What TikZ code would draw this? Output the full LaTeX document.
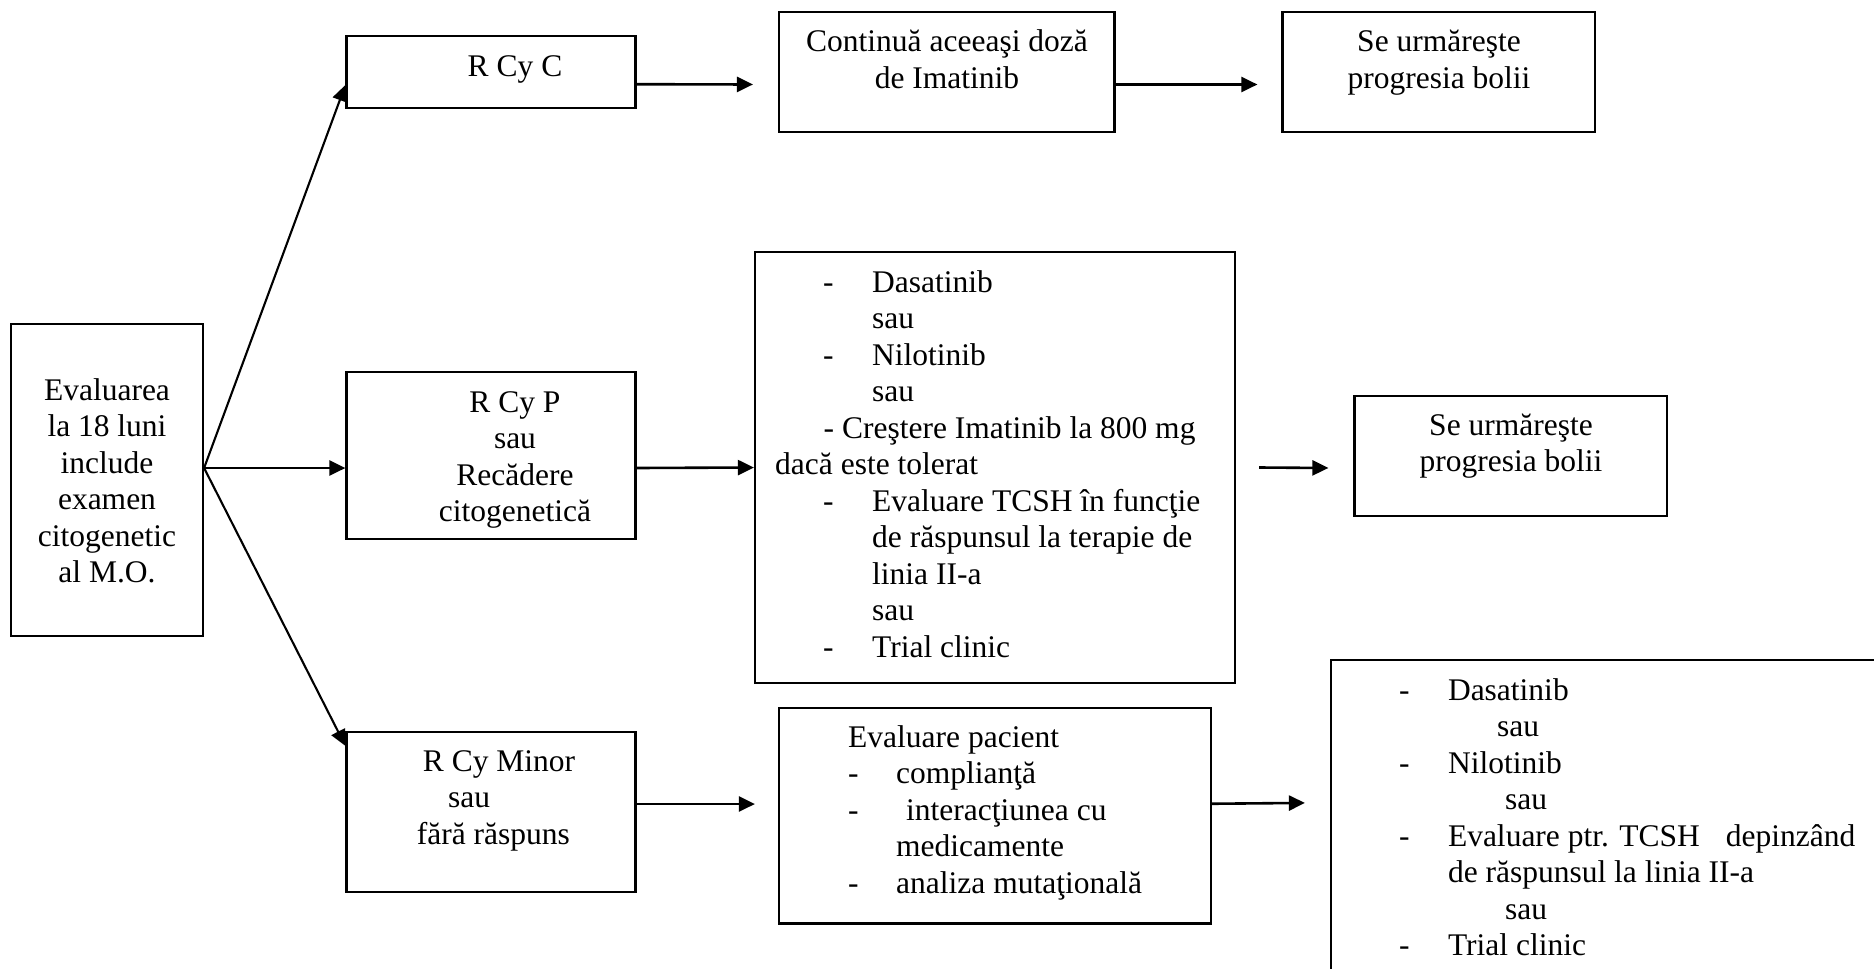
\documentclass[tikz,border=0pt]{standalone}
\usepackage{fontspec}
\setmainfont{Liberation Serif}
\usetikzlibrary{arrows.meta}
% hyphen set in a fixed-width slot, for the hanging list items
\newcommand{\dsh}[1]{\makebox[#1][l]{-}}

\begin{document}
\begin{tikzpicture}[x=1pt,y=-1pt,
  box/.style={draw, line width=2.2pt, rectangle, inner sep=0pt},
  txt/.style={inner sep=0pt, font=\fontsize{31.5}{36.5}\selectfont},
  arr/.style={line width=2.1pt, -{Triangle[length=16pt,width=15pt]}},
  link/.style={line width=2.6pt, -{Triangle[length=16pt,width=15pt]}},
]
\useasboundingbox (0,0) rectangle (1874,969);

% ---------- frames ----------
\node[box, minimum width=192pt,   minimum height=312pt]   (eval) at (107,480) {};
\node[box, minimum width=289pt,   minimum height=72pt]    (rcyc) at (491,71.7) {};
\node[box, minimum width=289pt,   minimum height=167pt]   (rcyp) at (491,455.5) {};
\node[box, minimum width=289pt,   minimum height=160pt]   (rcym) at (491,812) {};
\node[box, minimum width=335.5pt, minimum height=120.6pt] (cont) at (946.75,72) {};
\node[box, minimum width=312.5pt, minimum height=120.6pt] (urm1) at (1438.75,72) {};
\node[box, minimum width=480pt,   minimum height=431pt]   (opt1) at (995,467.5) {};
\node[box, minimum width=312.5pt, minimum height=120pt]   (urm2) at (1510.75,456) {};
\node[box, minimum width=432pt,   minimum height=215.5pt] (pac)  at (995,815.75) {};
% this frame runs past the right and bottom edges of the page
\node[box, minimum width=560pt,   minimum height=320pt]   (opt2) at (1611,820) {};

% ---------- texts ----------
\node[txt, anchor=north, align=center] (evalT) at (107,374.45)
  {\strut Evaluarea\\la 18 luni\\include\\examen\\citogenetic\\al M.O.};
\node[txt, anchor=north, align=center] (rcycT) at (515,50.45) {\strut R Cy C};
\node[txt, anchor=north, align=center] (rcypT) at (515,386.45)
  {\strut R Cy P\\sau\\Recădere\\citogenetică};
\node[txt, anchor=north west, align=left] (rcymT) at (416.7,745.45)
  {\strut\hspace*{6pt}R Cy Minor\\\hspace*{31.3pt}sau\\fără răspuns};
\node[txt, anchor=north, align=center] (contT) at (947,26.15)
  {\strut Continuă aceeaşi doză\\de Imatinib};
\node[txt, anchor=north, align=center] (urm1T) at (1439,26.15)
  {\strut Se urmăreşte\\progresia bolii};
\node[txt, anchor=north, align=center] (urm2T) at (1511,409.45)
  {\strut Se urmăreşte\\progresia bolii};
\node[txt, anchor=north west, align=left] (opt1T) at (775,266.45)
  {\strut\hspace*{48pt}\dsh{49pt}Dasatinib\\
   \hspace*{97pt}sau\\
   \hspace*{48pt}\dsh{49pt}Nilotinib\\
   \hspace*{97pt}sau\\
   \hspace*{48.5pt}- Creştere Imatinib la 800 mg\\
   dacă este tolerat\\
   \hspace*{48pt}\dsh{49pt}Evaluare TCSH în funcţie\\
   \hspace*{97pt}de răspunsul la terapie de\\
   \hspace*{97pt}linia II-a\\
   \hspace*{97pt}sau\\
   \hspace*{48pt}\dsh{49pt}Trial clinic};
\node[txt, anchor=north west, align=left] (pacT) at (848,721.45)
  {\strut Evaluare pacient\\
   \dsh{48pt}complianţă\\
   \dsh{48pt}\hspace*{10pt}interacţiunea cu\\
   \hspace*{48pt}medicamente\\
   \dsh{48pt}analiza mutaţională};
\node[txt, anchor=north west, align=left] (opt2T) at (1399,674.45)
  {\strut\dsh{48.8pt}Dasatinib\\
   \hspace*{98pt}sau\\
   \dsh{48.8pt}Nilotinib\\
   \hspace*{106pt}sau\\
   \dsh{48.8pt}Evaluare ptr. TCSH\hspace{26pt}depinzând\\
   \hspace*{48.8pt}de răspunsul la linia II-a\\
   \hspace*{106pt}sau\\
   \dsh{48.8pt}Trial clinic};

% ---------- connectors ----------
\coordinate (fork) at ([yshift=12pt]eval.east);
\draw[arr] (fork) -- ([yshift=-13.3pt]rcyc.west);
\draw[link] (fork) -- ([yshift=-12.5pt]rcyp.west);
\draw[arr] (fork) -- ([yshift=-15pt]rcym.north west);

\draw[link] ([yshift=-12.5pt]rcyc.east) -- ([xshift=-25pt,yshift=-12.5pt]cont.west);
\draw[link] ([yshift=-12.5pt]cont.east) -- ([xshift=-24pt,yshift=-12.5pt]urm1.west);
\draw[link] ([yshift=-12.5pt]rcyp.east) -- (opt1.west);
\draw[link] ([xshift=23pt]opt1.east) -- ([xshift=-25pt,yshift=-12pt]urm2.west);
\draw[link] ([yshift=8pt]rcym.east) -- ([xshift=-23pt,yshift=11.75pt]pac.west);
\draw[link] ([yshift=12pt]pac.east) -- ([xshift=-25pt,yshift=-144pt]opt2.north west);
\end{tikzpicture}
\end{document}
